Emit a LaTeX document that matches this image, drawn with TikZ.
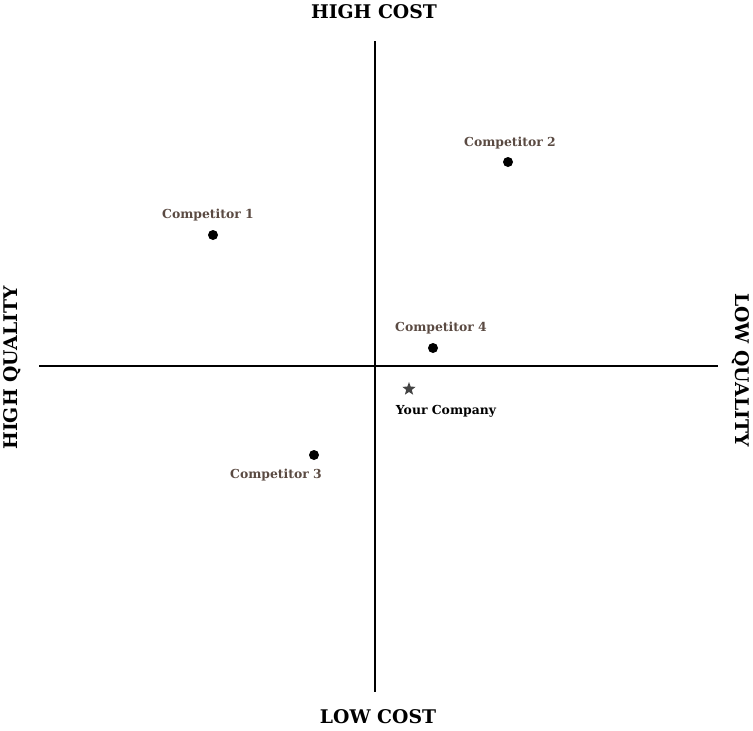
\documentclass[tikz,border=0pt]{standalone}
\usepackage{fontspec}
\setmainfont{DejaVu Serif}
\usetikzlibrary{shapes.geometric}
\definecolor{lbl}{HTML}{5A4A42}
\definecolor{stargray}{HTML}{444444}
\begin{document}
\begin{tikzpicture}[x=1pt,y=-1pt,
  axis/.style={line width=1.6pt,black},
  axlabel/.style={font=\bfseries\fontsize{18.8}{21}\selectfont,inner sep=0pt},
  complabel/.style={font=\bfseries\fontsize{12.4}{14}\selectfont,text=lbl,inner sep=0pt},
  dot/.style={circle,fill=black,inner sep=0pt,minimum size=10pt},
  starmark/.style={star,star points=5,star point ratio=2.4,fill=stargray,inner sep=0pt,minimum size=14pt}]
\useasboundingbox (0,0) rectangle (753,731);
\coordinate (vt) at (375,41);
\coordinate (vb) at (375,692);
\coordinate (hl) at (39,366);
\coordinate (hr) at (718,366);
\draw[axis] (vt) -- (vb);
\draw[axis] (hl) -- (hr);
\node[axlabel] (hc) at (374,12) {HIGH COST};
\node[axlabel] (lc) at (378,717) {LOW COST};
\node[axlabel,rotate=90] (hq) at (12,368) {HIGH QUALITY};
\node[axlabel,rotate=-90] (lq) at (741,370) {LOW QUALITY};
\node[dot] (c1) at (213,235) {};
\node[dot] (c2) at (508,162) {};
\node[dot] (c3) at (314,455) {};
\node[dot] (c4) at (433,348) {};
\node[starmark] (yc) at (409,389) {};
\node[complabel] (l1) at (208,215) {Competitor 1};
\node[complabel] (l2) at (510,143) {Competitor 2};
\node[complabel] (l3) at (276,475) {Competitor 3};
\node[complabel] (l4) at (441,328) {Competitor 4};
\node[complabel,text=black] (ly) at (446,411) {Your Company};
\end{tikzpicture}
\end{document}
